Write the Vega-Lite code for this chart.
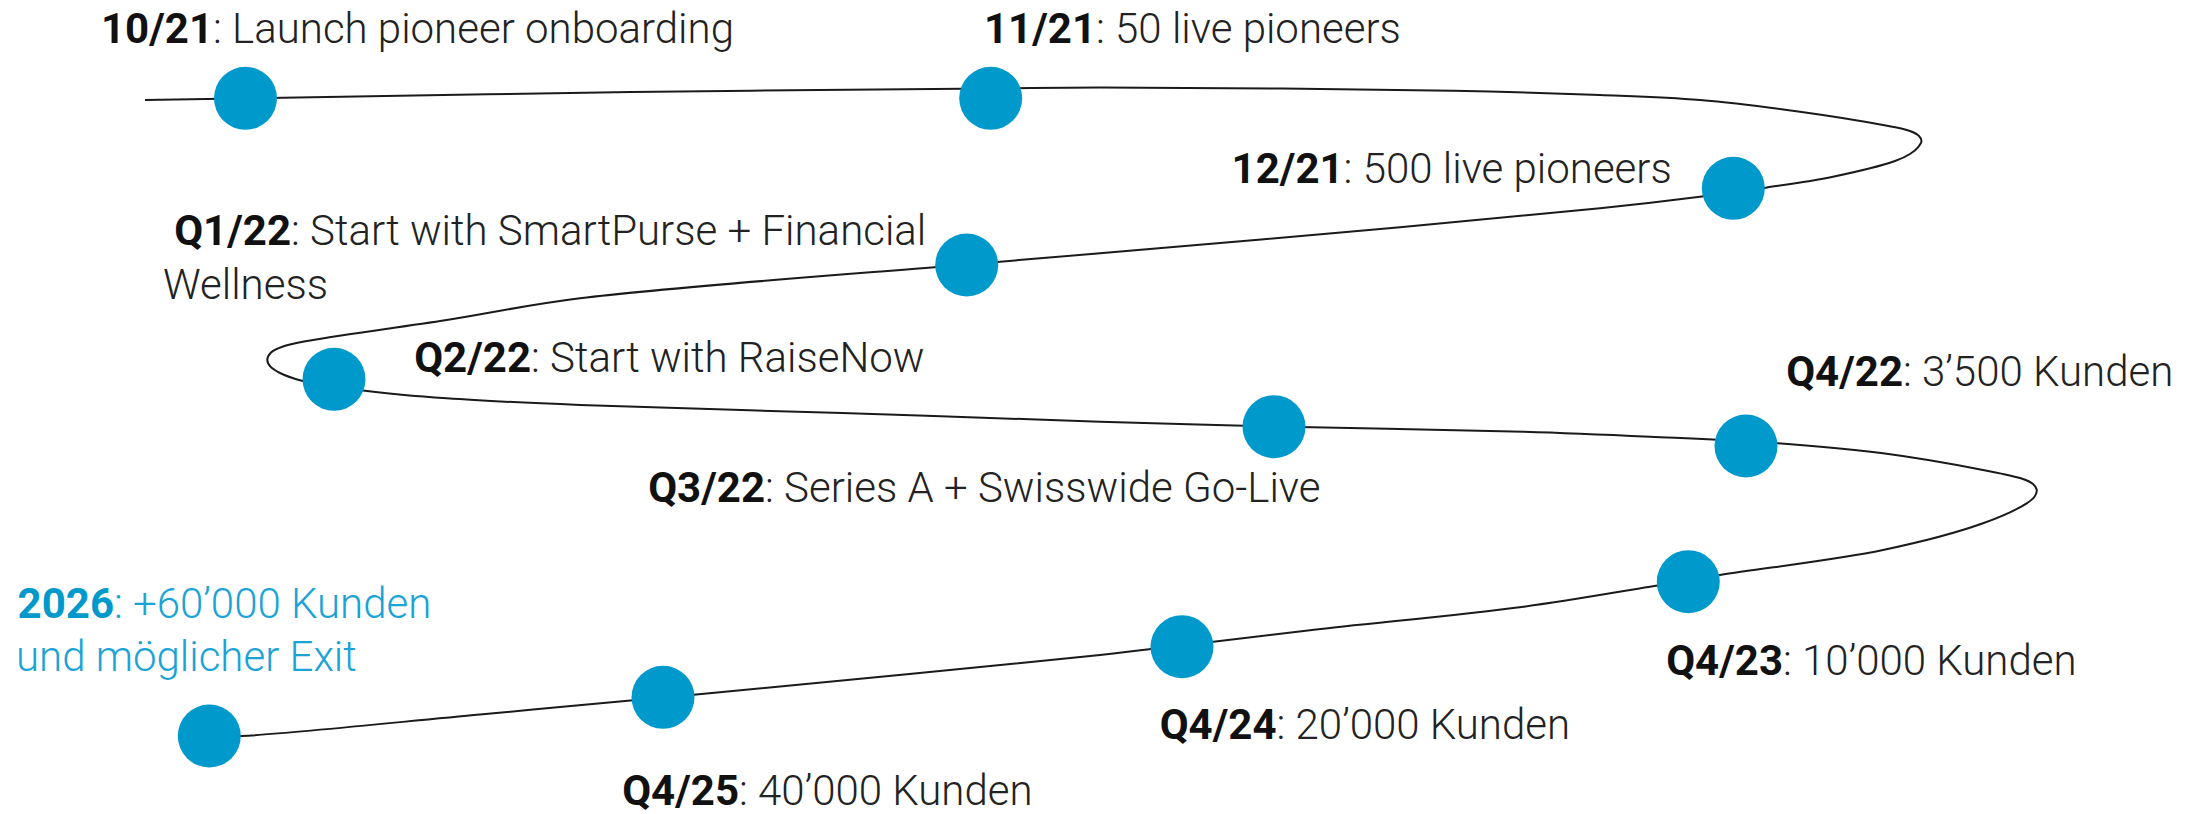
{
  "$schema": "https://vega.github.io/schema/vega-lite/v6.json",
  "width": 2207,
  "height": 814,
  "autosize": {"type": "fit", "contains": "padding"},
  "padding": 0,
  "background": "white",
  "config": {"view": {"stroke": null}},
  "datasets": {
    "curve": [
      {"i": 1, "x": 145, "y": 100},
      {"i": 2, "x": 246, "y": 98.5},
      {"i": 3, "x": 631, "y": 92},
      {"i": 4, "x": 990, "y": 88.5},
      {"i": 5, "x": 1100, "y": 87.5},
      {"i": 6, "x": 1453, "y": 90.7},
      {"i": 7, "x": 1600, "y": 95},
      {"i": 8, "x": 1700, "y": 100},
      {"i": 9, "x": 1800, "y": 111.7},
      {"i": 10, "x": 1883, "y": 125},
      {"i": 11, "x": 1910, "y": 131},
      {"i": 12, "x": 1919, "y": 136},
      {"i": 13, "x": 1921.5, "y": 141},
      {"i": 14, "x": 1918, "y": 147.3},
      {"i": 15, "x": 1910, "y": 154},
      {"i": 16, "x": 1895, "y": 161},
      {"i": 17, "x": 1833, "y": 176.7},
      {"i": 18, "x": 1765.7, "y": 187.7},
      {"i": 19, "x": 1700, "y": 196.7},
      {"i": 20, "x": 1600, "y": 208.3},
      {"i": 21, "x": 1400, "y": 227.3},
      {"i": 22, "x": 1100, "y": 253.3},
      {"i": 23, "x": 967, "y": 264.5},
      {"i": 24, "x": 580, "y": 298.3},
      {"i": 25, "x": 446.7, "y": 320},
      {"i": 26, "x": 313, "y": 340},
      {"i": 27, "x": 283, "y": 346.5},
      {"i": 28, "x": 271, "y": 352.5},
      {"i": 29, "x": 267.3, "y": 360},
      {"i": 30, "x": 270.5, "y": 366.7},
      {"i": 31, "x": 280, "y": 373},
      {"i": 32, "x": 301.7, "y": 380.7},
      {"i": 33, "x": 365, "y": 390.7},
      {"i": 34, "x": 446.7, "y": 398.3},
      {"i": 35, "x": 580, "y": 405},
      {"i": 36, "x": 842, "y": 413},
      {"i": 37, "x": 1100, "y": 421.7},
      {"i": 38, "x": 1274, "y": 426.5},
      {"i": 39, "x": 1523.6, "y": 431.7},
      {"i": 40, "x": 1650, "y": 436.7},
      {"i": 41, "x": 1778, "y": 443.3},
      {"i": 42, "x": 1883, "y": 453.3},
      {"i": 43, "x": 1983, "y": 470},
      {"i": 44, "x": 2023, "y": 479},
      {"i": 45, "x": 2033, "y": 484},
      {"i": 46, "x": 2036.7, "y": 489.5},
      {"i": 47, "x": 2035, "y": 496},
      {"i": 48, "x": 2026.7, "y": 503.3},
      {"i": 49, "x": 1983, "y": 523.3},
      {"i": 50, "x": 1883, "y": 550},
      {"i": 51, "x": 1720, "y": 575},
      {"i": 52, "x": 1650, "y": 586.7},
      {"i": 53, "x": 1523.6, "y": 606.7},
      {"i": 54, "x": 1312, "y": 630},
      {"i": 55, "x": 1182, "y": 645.5},
      {"i": 56, "x": 1100, "y": 655},
      {"i": 57, "x": 701.5, "y": 694},
      {"i": 58, "x": 663, "y": 697.5},
      {"i": 59, "x": 480, "y": 714.5},
      {"i": 60, "x": 241.7, "y": 736},
      {"i": 61, "x": 209, "y": 736}
    ],
    "milestones": [
      {"m": "10/21", "x": 245.5, "y": 98.3},
      {"m": "11/21", "x": 990.7, "y": 98.3},
      {"m": "12/21", "x": 1733.3, "y": 188.3},
      {"m": "Q1/22", "x": 966.7, "y": 265},
      {"m": "Q2/22", "x": 334, "y": 379.3},
      {"m": "Q3/22", "x": 1274, "y": 426.7},
      {"m": "Q4/22", "x": 1746, "y": 446},
      {"m": "Q4/23", "x": 1688.3, "y": 581.7},
      {"m": "Q4/24", "x": 1182, "y": 646.7},
      {"m": "Q4/25", "x": 663, "y": 697.3},
      {"m": "2026", "x": 209.3, "y": 736}
    ],
    "labels": [
      {"bold": "10/21", "rest": ": Launch pioneer onboarding", "x": 213, "y": 43, "g": "past"},
      {"bold": "11/21", "rest": ": 50 live pioneers", "x": 1096, "y": 43, "g": "past"},
      {"bold": "12/21", "rest": ": 500 live pioneers", "x": 1343.6, "y": 183.3, "g": "past"},
      {"bold": "Q1/22", "rest": ": Start with SmartPurse + Financial", "x": 291, "y": 245, "g": "past"},
      {"bold": "Q2/22", "rest": ": Start with RaiseNow", "x": 531, "y": 372, "g": "past"},
      {"bold": "Q3/22", "rest": ": Series A + Swisswide Go-Live", "x": 765, "y": 502, "g": "past"},
      {"bold": "Q4/22", "rest": ": 3’500 Kunden", "x": 1903, "y": 386, "g": "past"},
      {"bold": "Q4/23", "rest": ": 10’000 Kunden", "x": 1783, "y": 675, "g": "past"},
      {"bold": "Q4/24", "rest": ": 20’000 Kunden", "x": 1276.5, "y": 739, "g": "past"},
      {"bold": "Q4/25", "rest": ": 40’000 Kunden", "x": 739, "y": 805, "g": "past"},
      {"bold": "2026", "rest": ": +60’000 Kunden", "x": 114, "y": 617.7, "g": "goal"}
    ],
    "lines2": [
      {"t": "Wellness", "x": 163, "y": 299, "g": "past"},
      {"t": "und möglicher Exit", "x": 16, "y": 670.7, "g": "goal"}
    ]
  },
  "layer": [
    {
      "data": {"name": "curve"},
      "mark": {"type": "line", "interpolate": "catmull-rom", "color": "#1a1a1a", "strokeWidth": 2},
      "encoding": {
        "x": {"field": "x", "type": "quantitative", "scale": {"domain": [0, 2207], "nice": false, "zero": false}, "axis": null},
        "y": {"field": "y", "type": "quantitative", "scale": {"domain": [0, 814], "nice": false, "zero": false, "reverse": true}, "axis": null},
        "order": {"field": "i", "type": "quantitative"}
      }
    },
    {
      "data": {"name": "milestones"},
      "mark": {"type": "point", "shape": "circle", "filled": true, "size": 3969, "color": "#0099CC", "opacity": 1},
      "encoding": {
        "x": {"field": "x", "type": "quantitative", "axis": null},
        "y": {"field": "y", "type": "quantitative", "axis": null}
      }
    },
    {
      "data": {"name": "labels"},
      "mark": {"type": "text", "align": "right", "baseline": "alphabetic", "font": "Roboto", "fontSize": 42, "fontWeight": "bold"},
      "encoding": {
        "x": {"field": "x", "type": "quantitative", "axis": null},
        "y": {"field": "y", "type": "quantitative", "axis": null},
        "text": {"field": "bold"},
        "color": {"field": "g", "type": "nominal", "scale": {"domain": ["past", "goal"], "range": ["#111111", "#0099CC"]}, "legend": null}
      }
    },
    {
      "data": {"name": "labels"},
      "mark": {"type": "text", "align": "left", "baseline": "alphabetic", "font": "Roboto", "fontSize": 42, "fontWeight": 300},
      "encoding": {
        "x": {"field": "x", "type": "quantitative", "axis": null},
        "y": {"field": "y", "type": "quantitative", "axis": null},
        "text": {"field": "rest"},
        "color": {"field": "g", "type": "nominal", "scale": {"domain": ["past", "goal"], "range": ["#222222", "#1AA3D6"]}, "legend": null}
      }
    },
    {
      "data": {"name": "lines2"},
      "mark": {"type": "text", "align": "left", "baseline": "alphabetic", "font": "Roboto", "fontSize": 42, "fontWeight": 300},
      "encoding": {
        "x": {"field": "x", "type": "quantitative", "axis": null},
        "y": {"field": "y", "type": "quantitative", "axis": null},
        "text": {"field": "t"},
        "color": {"field": "g", "type": "nominal", "scale": {"domain": ["past", "goal"], "range": ["#222222", "#1AA3D6"]}, "legend": null}
      }
    }
  ],
  "resolve": {"scale": {"color": "independent"}}
}
